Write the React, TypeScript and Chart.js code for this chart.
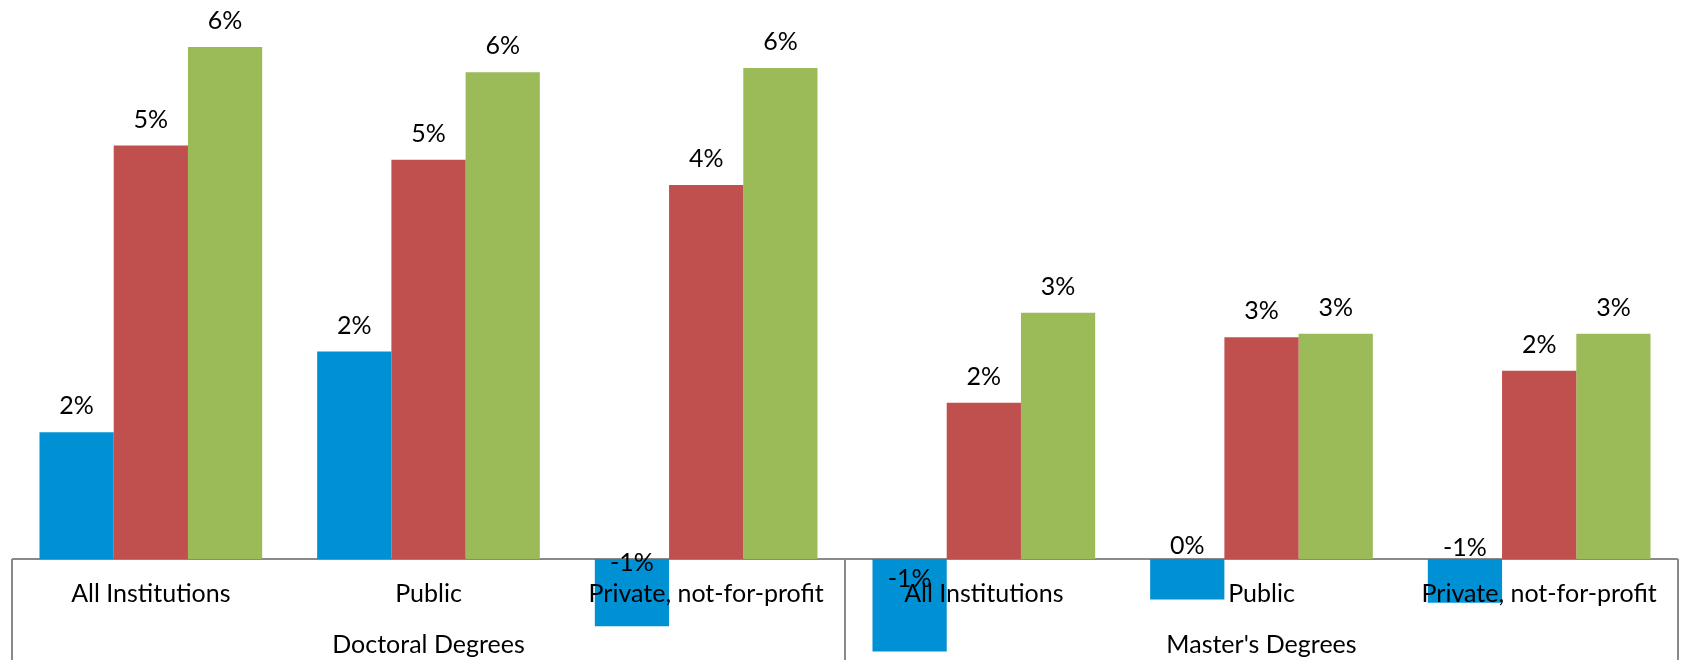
import React, { useEffect, useRef } from "react";
import { Chart, registerables } from "chart.js";

Chart.register(...registerables);

// ---- data ----
const categories = [
  "All Institutions",
  "Public",
  "Private, not-for-profit",
  "All Institutions",
  "Public",
  "Private, not-for-profit",
];
const groups = ["Doctoral Degrees", "Master's Degrees"];
const groupSize = 3;
const seriesNames = ["Series 1", "Series 2", "Series 3"];
const series1 = [1.51, 2.47, -0.8, -1.1, -0.48, -0.52];
const series2 = [4.92, 4.75, 4.45, 1.86, 2.64, 2.24];
const series3 = [6.09, 5.79, 5.84, 2.93, 2.68, 2.68];
const yMin = -1.2;
const yMax = 6.65;

const colors = ["#0090D4", "#C0504D", "#9BBB59"];
const FONT_FAMILY = "Lato, 'Noto Sans', sans-serif";
const FONT_SIZE = 25;

const fmt = (v: number) => `${Math.round(v) || 0}%`;

const frameAndLabels = {
  id: "frameAndLabels",
  beforeDatasetsDraw(chart: any) {
    const { ctx, chartArea, scales } = chart;
    const x = scales.x;
    const y = scales.y;
    const y0 = y.getPixelForValue(0);
    ctx.save();
    ctx.strokeStyle = "#898989";
    ctx.lineWidth = 2;
    ctx.beginPath();
    ctx.moveTo(chartArea.left, y0);
    ctx.lineTo(chartArea.right, y0);
    for (let g = 0; g <= groups.length; g++) {
      const idx = g * groupSize;
      let px: number;
      if (g === 0) px = chartArea.left;
      else if (g === groups.length) px = chartArea.right;
      else px = (x.getPixelForValue(idx - 1) + x.getPixelForValue(idx)) / 2;
      ctx.moveTo(px, y0);
      ctx.lineTo(px, chart.height);
    }
    ctx.stroke();
    ctx.restore();
  },
  afterDatasetsDraw(chart: any) {
    const { ctx, chartArea, scales } = chart;
    const x = scales.x;
    const y = scales.y;
    const y0 = y.getPixelForValue(0);
    ctx.save();
    ctx.fillStyle = "#000";
    ctx.font = `${FONT_SIZE}px ${FONT_FAMILY}`;
    ctx.textAlign = "center";
    ctx.textBaseline = "middle";
    // category labels
    categories.forEach((c, i) => {
      ctx.fillText(c, x.getPixelForValue(i), y0 + 35);
    });
    // group labels
    groups.forEach((g, gi) => {
      const first = gi * groupSize;
      const last = first + groupSize - 1;
      const left =
        gi === 0 ? chartArea.left : (x.getPixelForValue(first - 1) + x.getPixelForValue(first)) / 2;
      const right =
        gi === groups.length - 1
          ? chartArea.right
          : (x.getPixelForValue(last) + x.getPixelForValue(last + 1)) / 2;
      ctx.fillText(g, (left + right) / 2, y0 + 86);
    });
    // data labels
    chart.data.datasets.forEach((ds: any, di: number) => {
      const meta = chart.getDatasetMeta(di);
      meta.data.forEach((el: any, i: number) => {
        const v = ds.data[i];
        const ty = v >= 0 ? el.y - 26 : el.y - (39 + 0.36 * (el.y - y0));
        ctx.fillText(fmt(v), el.x, ty);
      });
    });
    ctx.restore();
  },
};

export default function App() {
  const ref = useRef<HTMLCanvasElement | null>(null);
  useEffect(() => {
    if (!ref.current) return;
    const chart = new Chart(ref.current, {
      type: "bar",
      data: {
        labels: categories,
        datasets: [series1, series2, series3].map((d, i) => ({
          label: seriesNames[i],
          data: d,
          backgroundColor: colors[i],
          borderWidth: 0,
          categoryPercentage: 0.802,
          barPercentage: 1,
        })),
      },
      options: {
        animation: false,
        responsive: false,
        devicePixelRatio: 1,
        layout: { padding: { left: 12, right: 7, top: 0, bottom: 0 } },
        plugins: {
          legend: { display: false },
          tooltip: { enabled: false },
        },
        scales: {
          x: { display: false },
          y: { display: false, min: yMin, max: yMax },
        },
      },
      plugins: [frameAndLabels],
    });
    return () => chart.destroy();
  }, []);
  return (
    <div style={{ position: "absolute", left: 0, top: 0, width: 1685, height: 660, background: "#fff" }}>
      <canvas ref={ref} width={1685} height={660} style={{ display: "block" }} />
    </div>
  );
}
